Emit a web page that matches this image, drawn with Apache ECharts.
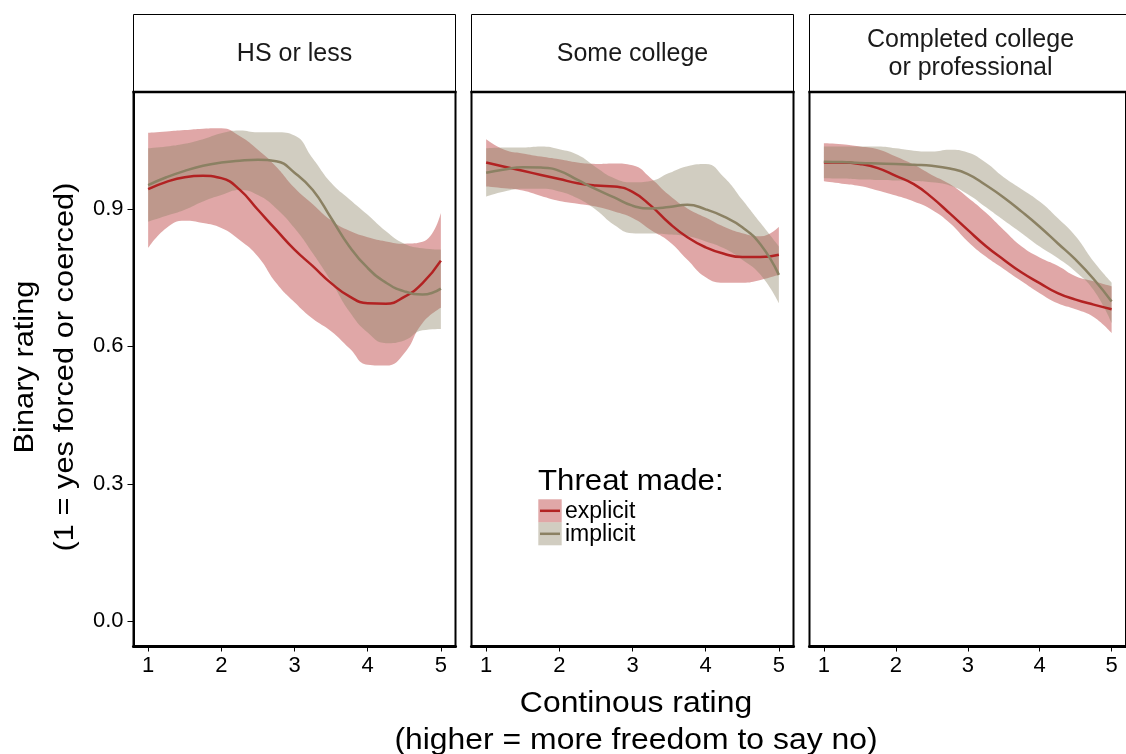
<!DOCTYPE html>
<html><head><meta charset="utf-8">
<script src="https://cdn.jsdelivr.net/npm/echarts@6/dist/echarts.min.js"></script>
<style>html,body{margin:0;padding:0;background:#fff}#c{width:1126px;height:754px}</style>
</head><body><div id="c"></div>
<script>
// ---- data ----
const panels = ['HS or less', 'Some college', 'Completed college\nor professional'];
const groups = ['explicit', 'implicit'];
const xValues = [1, 1.25, 1.5, 1.75, 2, 2.25, 2.5, 2.75, 3, 3.25, 3.5, 3.75, 4, 4.25, 4.5, 4.75, 5];
const xTicks = [1, 2, 3, 4, 5];
const yTicks = [0, 0.3, 0.6, 0.9];

// HS or less
const hsExplicitFit   = [0.943, 0.959, 0.969, 0.972, 0.967, 0.942, 0.898, 0.854, 0.811, 0.775, 0.738, 0.709, 0.694, 0.693, 0.708, 0.738, 0.787];
const hsExplicitUpper = [1.066, 1.069, 1.072, 1.075, 1.076, 1.059, 1.029, 0.992, 0.946, 0.910, 0.875, 0.852, 0.838, 0.829, 0.824, 0.828, 0.891];
const hsExplicitLower = [0.814, 0.858, 0.874, 0.869, 0.858, 0.832, 0.796, 0.738, 0.696, 0.660, 0.633, 0.596, 0.560, 0.558, 0.585, 0.651, 0.684];
const hsImplicitFit   = [0.952, 0.969, 0.983, 0.994, 1.001, 1.005, 1.007, 1.004, 0.979, 0.941, 0.880, 0.818, 0.771, 0.739, 0.720, 0.713, 0.726];
const hsImplicitUpper = [1.032, 1.036, 1.042, 1.052, 1.065, 1.071, 1.067, 1.067, 1.060, 1.010, 0.957, 0.921, 0.887, 0.851, 0.824, 0.814, 0.811];
const hsImplicitLower = [0.872, 0.885, 0.898, 0.916, 0.930, 0.941, 0.930, 0.901, 0.858, 0.803, 0.742, 0.676, 0.630, 0.607, 0.613, 0.635, 0.638];
// Some college
const scExplicitFit   = [1.001, 0.992, 0.983, 0.974, 0.965, 0.956, 0.951, 0.949, 0.937, 0.907, 0.869, 0.838, 0.816, 0.802, 0.795, 0.795, 0.800];
const scExplicitUpper = [1.052, 1.029, 1.021, 1.014, 1.008, 1.001, 0.998, 0.999, 0.995, 0.967, 0.930, 0.901, 0.881, 0.861, 0.847, 0.840, 0.861];
const scExplicitLower = [0.949, 0.945, 0.940, 0.928, 0.917, 0.911, 0.905, 0.894, 0.880, 0.854, 0.829, 0.789, 0.751, 0.739, 0.739, 0.745, 0.756];
const scImplicitFit   = [0.979, 0.986, 0.991, 0.990, 0.983, 0.963, 0.943, 0.925, 0.907, 0.901, 0.904, 0.909, 0.899, 0.883, 0.860, 0.822, 0.756];
const scImplicitUpper = [1.032, 1.034, 1.034, 1.036, 1.030, 1.018, 0.991, 0.967, 0.958, 0.961, 0.978, 0.993, 0.998, 0.969, 0.920, 0.869, 0.818];
const scImplicitLower = [0.927, 0.938, 0.944, 0.944, 0.938, 0.923, 0.898, 0.865, 0.847, 0.846, 0.844, 0.840, 0.829, 0.814, 0.789, 0.756, 0.694];
// Completed college or professional
const ccExplicitFit   = [1.001, 1.001, 0.998, 0.989, 0.972, 0.954, 0.925, 0.890, 0.854, 0.819, 0.789, 0.761, 0.738, 0.716, 0.702, 0.691, 0.681];
const ccExplicitUpper = [1.043, 1.041, 1.036, 1.030, 1.014, 0.996, 0.974, 0.954, 0.925, 0.892, 0.854, 0.818, 0.794, 0.776, 0.753, 0.742, 0.731];
const ccExplicitLower = [0.960, 0.955, 0.950, 0.940, 0.929, 0.916, 0.898, 0.869, 0.829, 0.796, 0.769, 0.742, 0.716, 0.694, 0.681, 0.664, 0.629];
const ccImplicitFit   = [1.003, 1.002, 1.000, 0.999, 0.998, 0.996, 0.994, 0.988, 0.976, 0.952, 0.925, 0.894, 0.861, 0.825, 0.789, 0.747, 0.698];
const ccImplicitUpper = [1.036, 1.036, 1.036, 1.036, 1.032, 1.027, 1.025, 1.029, 1.023, 1.001, 0.969, 0.943, 0.916, 0.880, 0.840, 0.785, 0.739];
const ccImplicitLower = [0.967, 0.966, 0.964, 0.963, 0.962, 0.961, 0.958, 0.951, 0.932, 0.904, 0.875, 0.847, 0.818, 0.793, 0.763, 0.723, 0.651];

const panelData = [
  [{fit: hsExplicitFit, upper: hsExplicitUpper, lower: hsExplicitLower},
   {fit: hsImplicitFit, upper: hsImplicitUpper, lower: hsImplicitLower}],
  [{fit: scExplicitFit, upper: scExplicitUpper, lower: scExplicitLower},
   {fit: scImplicitFit, upper: scImplicitUpper, lower: scImplicitLower}],
  [{fit: ccExplicitFit, upper: ccExplicitUpper, lower: ccExplicitLower},
   {fit: ccImplicitFit, upper: ccImplicitUpper, lower: ccImplicitLower}]
];

// ---- styles / layout ----
const FONT = "'Liberation Sans', Arial, Helvetica, sans-serif";
const lineColors = ['#b22222', '#8b8163'];
const fillColors = ['rgba(178,34,34,0.4)', 'rgba(139,129,99,0.4)'];
const gridLefts = [133.5, 471.5, 809.5];
const gridW = 322, gridTop = 92, gridH = 554.5;

const grids = [], xAxes = [], yAxes = [], series = [], graphics = [];
panels.forEach((name, p) => {
  grids.push({left: gridLefts[p], top: gridTop, width: gridW, height: gridH,
    show: true, borderColor: '#000', borderWidth: 2, backgroundColor: '#fff', containLabel: false});
  xAxes.push({type: 'value', gridIndex: p, min: 0.8, max: 5.2,
    axisLine: {show: true, onZero: false, lineStyle: {color: '#000', width: 3}},
    axisTick: {show: true, length: 5, customValues: xTicks, lineStyle: {color: '#000', width: 1}},
    axisLabel: {show: true, customValues: xTicks, color: '#000', fontSize: 22, fontFamily: FONT, margin: 8},
    splitLine: {show: false}});
  yAxes.push({type: 'value', gridIndex: p, min: -0.055, max: 1.155,
    axisLine: {show: p === 0, onZero: false, lineStyle: {color: '#000', width: 2}},
    axisTick: {show: p === 0, length: 6, customValues: yTicks, lineStyle: {color: '#000', width: 1}},
    axisLabel: {show: p === 0, customValues: yTicks, color: '#000', fontSize: 22, fontFamily: FONT, margin: 10,
      formatter: v => v.toFixed(1)},
    splitLine: {show: false}});
  // confidence bands: lower (invisible) + stacked width; data stored as [y, x] so y is the stacked dimension
  panelData[p].forEach((d, g) => {
    series.push({type: 'line', xAxisIndex: p, yAxisIndex: p, stack: 'band' + p + g, smooth: true,
      symbol: 'none', silent: true, lineStyle: {opacity: 0}, z: 2,
      dimensions: ['val', 'xv'], encode: {x: 1, y: 0},
      data: xValues.map((x, i) => [d.lower[i], x])});
    series.push({type: 'line', xAxisIndex: p, yAxisIndex: p, stack: 'band' + p + g, smooth: true,
      symbol: 'none', silent: true, lineStyle: {opacity: 0}, z: 2,
      dimensions: ['val', 'xv'], encode: {x: 1, y: 0},
      areaStyle: {color: fillColors[g], opacity: 1},
      data: xValues.map((x, i) => [d.upper[i] - d.lower[i], x])});
  });
  panelData[p].forEach((d, g) => {
    series.push({type: 'line', name: groups[g], xAxisIndex: p, yAxisIndex: p, smooth: true,
      symbol: 'none', silent: true, z: 5, lineStyle: {color: lineColors[g], width: 2.5},
      data: xValues.map((x, i) => [x, d.fit[i]])});
  });
  // strip
  graphics.push({type: 'rect', shape: {x: gridLefts[p], y: 14.5, width: gridW, height: 77.5},
    style: {fill: '#fff', stroke: '#000', lineWidth: 1}, z: 10});
  graphics.push({type: 'line', shape: {x1: gridLefts[p] - 1, y1: 92, x2: gridLefts[p] + gridW + 1, y2: 92},
    style: {stroke: '#000', lineWidth: 2.5}, z: 11});
  graphics.push({type: 'text', x: gridLefts[p] + gridW / 2, y: 54.5, z: 12,
    style: {text: name, font: '25px ' + FONT, fill: '#1a1a1a', textAlign: 'center', textVerticalAlign: 'middle', lineHeight: 28}});
});

// axis titles
graphics.push({type: 'text', x: 45, y: 367, rotation: Math.PI / 2, scaleX: 1.1, z: 12,
  style: {text: 'Binary rating\n(1 = yes forced or coerced)', font: '28px ' + FONT, fill: '#000',
    textAlign: 'center', textVerticalAlign: 'middle', lineHeight: 40}});
graphics.push({type: 'text', x: 636, y: 722, scaleX: 1.1, z: 12,
  style: {text: 'Continous rating\n(higher = more freedom to say no)', font: '29px ' + FONT, fill: '#000',
    textAlign: 'center', textVerticalAlign: 'middle', lineHeight: 37}});

// legend
graphics.push({type: 'text', x: 538, y: 482, scaleX: 1.04, z: 12,
  style: {text: 'Threat made:', font: '30px ' + FONT, fill: '#000', textAlign: 'left', textVerticalAlign: 'middle'}});
groups.forEach((g, i) => {
  const y0 = 499.3 + i * 23;
  graphics.push({type: 'rect', shape: {x: 538.3, y: y0, width: 23.4, height: 23}, style: {fill: fillColors[i]}, z: 12});
  graphics.push({type: 'line', shape: {x1: 540, y1: y0 + 11.5, x2: 560, y2: y0 + 11.5},
    style: {stroke: lineColors[i], lineWidth: 2.5}, z: 13});
  graphics.push({type: 'text', x: 565, y: y0 + 12, z: 13,
    style: {text: g, font: '23px ' + FONT, fill: '#000', textAlign: 'left', textVerticalAlign: 'middle'}});
});

const chart = echarts.init(document.getElementById('c'), null, {renderer: 'canvas'});
chart.setOption({
  animation: false,
  backgroundColor: '#fff',
  textStyle: {fontFamily: FONT},
  grid: grids, xAxis: xAxes, yAxis: yAxes, series: series,
  graphic: graphics
});
</script></body></html>
